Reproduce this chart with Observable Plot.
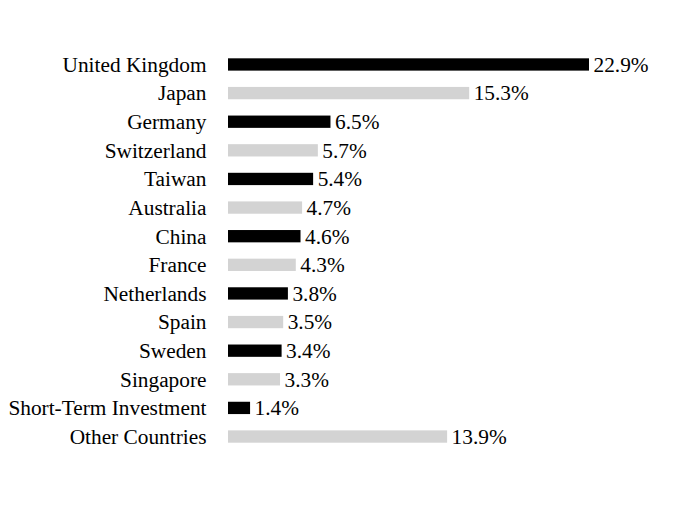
<!DOCTYPE html>
<html>
<head>
<meta charset="utf-8">
<script src="https://cdn.jsdelivr.net/npm/d3@7"></script>
<script src="https://cdn.jsdelivr.net/npm/@observablehq/plot@0.6"></script>
<style>
  body { margin: 0; background: #fff; }
</style>
</head>
<body>
<div id="chart"></div>
<script>
// Country allocation, in percent of the portfolio
const countries = [
  "United Kingdom", "Japan", "Germany", "Switzerland", "Taiwan", "Australia",
  "China", "France", "Netherlands", "Spain", "Sweden", "Singapore",
  "Short-Term Investment", "Other Countries"
];
const weights = [22.9, 15.3, 6.5, 5.7, 5.4, 4.7, 4.6, 4.3, 3.8, 3.5, 3.4, 3.3, 1.4, 13.9];
const barColors = ["#000000", "#d3d3d3"];

const serif = "Liberation Serif";
const labelSize = 21.33;

const rows = countries.map((name, i) => ({
  name,
  value: weights[i],
  color: barColors[i % 2]
}));

const chart = Plot.plot({
  width: 684,
  height: 528,
  marginLeft: 228,
  marginRight: 95,
  marginTop: 42,
  marginBottom: 69,
  style: { fontFamily: serif, fontSize: labelSize + "px", color: "#000", background: "#fff" },
  x: { domain: [0, 22.9], axis: null },
  y: { domain: countries, padding: 0.57, round: false, label: null },
  marks: [
    Plot.axisY({ tickSize: 0, tickPadding: 22, label: null, fontSize: labelSize, fontFamily: serif }),
    Plot.barX(rows, { x: "value", y: "name", fill: "color" }),
    Plot.text(rows, {
      x: "value",
      y: "name",
      text: d => d.value.toFixed(1) + "%",
      textAnchor: "start",
      dx: 4,
      fill: "#000",
      fontSize: labelSize,
      fontFamily: serif
    })
  ]
});

document.getElementById("chart").appendChild(chart);
</script>
</body>
</html>
